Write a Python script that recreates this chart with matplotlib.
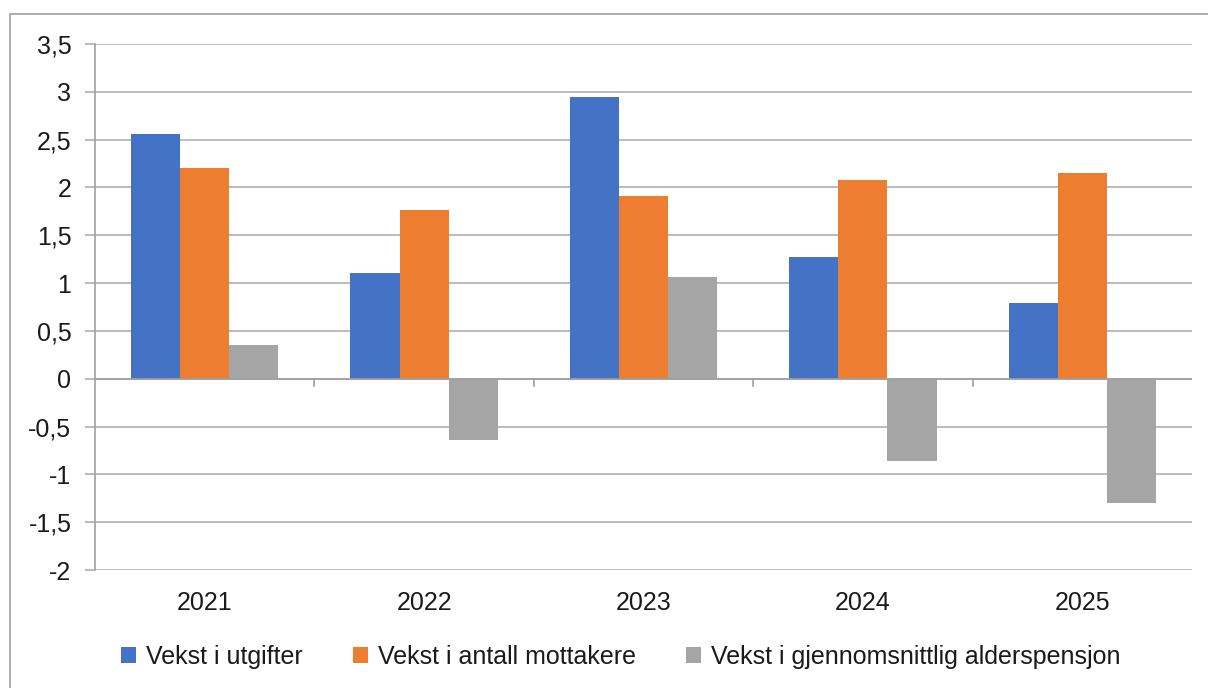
import numpy as np
import matplotlib.pyplot as plt
from matplotlib.patches import Rectangle

plt.rcParams['font.family'] = ['Liberation Sans', 'DejaVu Sans']

years = ['2021', '2022', '2023', '2024', '2025']
utgifter = [2.56, 1.11, 2.95, 1.27, 0.79]
mottakere = [2.20, 1.76, 1.91, 2.08, 2.15]
alderspensjon = [0.35, -0.64, 1.06, -0.86, -1.30]
series_names = ['Vekst i utgifter', 'Vekst i antall mottakere',
                'Vekst i gjennomsnittlig alderspensjon']
colors = ['#4472C4', '#ED7D31', '#A5A5A5']
yticks = [3.5, 3, 2.5, 2, 1.5, 1, 0.5, 0, -0.5, -1, -1.5, -2]

W, H = 1208, 688
fig = plt.figure(figsize=(W / 100, H / 100), dpi=100)
ax = fig.add_axes([95 / W, 1 - 570 / H, (1192 - 95) / W, (570 - 44) / H])

# outer frame of the chart area
fig.patches.append(Rectangle((10 / W, -0.1), 1.2, 1 - 14 / H + 0.1,
                             transform=fig.transFigure, fill=False,
                             edgecolor='#A0A0A0', linewidth=1.2))

x = np.arange(len(years))
w = 0.224
for i, (vals, name) in enumerate(zip([utgifter, mottakere, alderspensjon], series_names)):
    ax.bar(x + (i - 1) * w, vals, w, color=colors[i], label=name, zorder=3)

ax.set_xlim(-0.5, len(years) - 0.5)
ax.set_ylim(-2, 3.5)
ax.set_yticks(yticks)
ax.set_yticklabels([f'{v:g}'.replace('.', ',') for v in yticks])
ax.yaxis.grid(True, color='#B0B0B0', linewidth=1.2, zorder=0)
ax.tick_params(axis='y', length=7, color='#B0B0B0', width=1.2,
               labelsize=18, pad=10, labelcolor='#1a1a1a')

# category labels below, no ticks on bottom
ax.set_xticks(x)
ax.set_xticklabels(years)
ax.tick_params(axis='x', length=0, labelsize=18, pad=15, labelcolor='#1a1a1a')

for s in ['top', 'right', 'bottom']:
    ax.spines[s].set_visible(False)
ax.spines['left'].set_color('#A0A0A0')
ax.spines['left'].set_linewidth(1.2)

# zero axis with boundary ticks
ax.axhline(0, color='#A0A0A0', linewidth=1.2, zorder=4)
for b in np.arange(0.5, len(years) - 0.5, 1):
    ax.plot([b, b], [0, -0.075], color='#A0A0A0', linewidth=1.2, zorder=4)

leg = fig.legend(loc='center', bbox_to_anchor=(0.514, 1 - 657 / H), ncol=3,
                 frameon=False, fontsize=18, handlelength=0.6, handleheight=0.6,
                 handletextpad=0.4, columnspacing=2.0)
for t in leg.get_texts():
    t.set_color('#1a1a1a')

fig.savefig('out.png', dpi=100)
